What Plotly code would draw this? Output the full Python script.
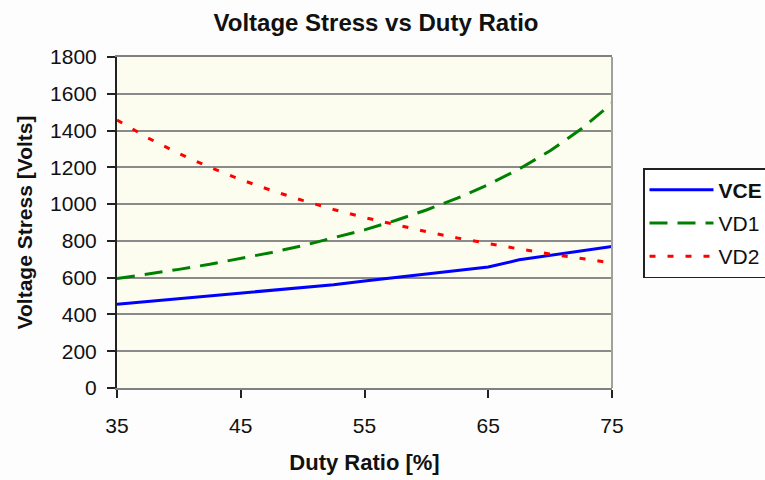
import plotly.graph_objects as go

duty = [35, 37.5, 40, 42.5, 45, 47.5, 50, 52.5, 55, 57.5, 60, 62.5, 65, 67.5, 70, 72.5, 75]
vce = [455, 470, 487, 502, 516, 529, 545, 562, 582, 600, 618, 638, 658, 697, 722, 745, 770]
vd1 = [595, 619, 645, 673, 704, 737, 774, 815, 860, 911, 968, 1032, 1106, 1191, 1290, 1408, 1548]
vd2 = [1457, 1360, 1275, 1200, 1133, 1074, 1020, 971, 927, 887, 850, 816, 785, 756, 729, 703, 680]

x_ticks = [35, 45, 55, 65, 75]
y_ticks = [0, 200, 400, 600, 800, 1000, 1200, 1400, 1600, 1800]

FONT = "Liberation Sans, Arial, sans-serif"

fig = go.Figure()
fig.add_trace(go.Scatter(x=duty, y=vce, name="<b>VCE</b>", mode="lines",
                         line=dict(color="#0000ff", width=3), legendgroup="a"))
fig.add_trace(go.Scatter(x=duty, y=vd1, name="VD1", mode="lines",
                         line=dict(color="#008000", width=3, dash="18px,10px"), legendgroup="b"))
fig.add_trace(go.Scatter(x=duty, y=vd2, name="VD2", mode="lines",
                         line=dict(color="#ff0000", width=3, dash="6px,12px"), legendgroup="c"))

fig.update_layout(
    width=765, height=480,
    margin=dict(l=117, r=153, t=57, b=92, autoexpand=False),
    paper_bgcolor="#fdfdfd",
    plot_bgcolor="#fdfdef",
    font=dict(family=FONT, color="#111111", size=21),
    title=dict(text="Voltage Stress vs Duty Ratio", x=376/765, xref="container", xanchor="center",
               y=1-23/480, yref="container", yanchor="middle",
               font=dict(family=FONT, size=24, weight="bold", color="#111111")),
    showlegend=True,
    legend=dict(x=(643-117)/495, xanchor="left", y=(388-168)/331, yanchor="top",
                bgcolor="#ffffff", bordercolor="#222222", borderwidth=1.5,
                font=dict(family=FONT, size=21, color="#111111"),
                itemwidth=64, tracegroupgap=3),
    xaxis=dict(range=[35, 75], tickvals=x_ticks, ticks="outside", ticklen=8, tickwidth=2,
               tickcolor="#222222", showgrid=False, zeroline=False,
               showline=True, linecolor="#808080", linewidth=2, mirror=True,
               ticklabelstandoff=10,
               title=dict(text="Duty Ratio [%]", standoff=18,
                          font=dict(family=FONT, size=22, weight="bold"))),
    yaxis=dict(range=[0, 1800], tickvals=y_ticks, ticks="outside", ticklen=8, tickwidth=2,
               tickcolor="#222222", showgrid=True, gridcolor="#8a8a8a", gridwidth=1.5,
               zeroline=False, showline=True, linecolor="#222222", linewidth=2,
               ticklabelstandoff=6,
               title=dict(text="Voltage Stress [Volts]", standoff=12,
                          font=dict(family=FONT, size=21, weight="bold"))),
)
fig.add_shape(type="line", xref="paper", yref="paper", x0=1, x1=1, y0=0, y1=1,
              line=dict(color="#a0a0a0", width=2))

fig.write_html("out.html")
